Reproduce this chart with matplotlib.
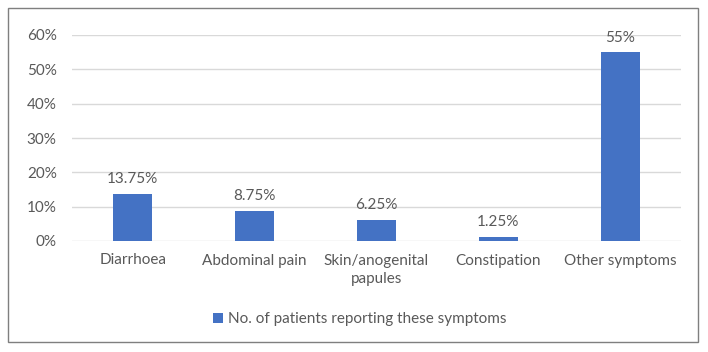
import matplotlib.pyplot as plt
from matplotlib.patches import Rectangle
from matplotlib.ticker import FuncFormatter

plt.rcParams['font.family'] = ['Lato', 'DejaVu Sans']

categories = ['Diarrhoea', 'Abdominal pain', 'Skin/anogenital\npapules', 'Constipation', 'Other symptoms']
values = [13.75, 8.75, 6.25, 1.25, 55]
labels = ['13.75%', '8.75%', '6.25%', '1.25%', '55%']
series_name = 'No. of patients reporting these symptoms'

grey = '#595959'
blue = '#4472C4'

fig = plt.figure(figsize=(7.08, 3.52), dpi=100)
# outer frame
fig.patches.append(Rectangle((8 / 708, 10 / 352), 690 / 708, 334 / 352, transform=fig.transFigure,
                             fill=False, edgecolor='#7f7f7f', linewidth=1.0))

ax = fig.add_axes([72 / 708, 1 - 241 / 352, 609 / 708, 206 / 352])
x = range(len(categories))
bars = ax.bar(x, values, width=0.32, color=blue, label=series_name, zorder=3)
for b, lab in zip(bars, labels):
    ax.text(b.get_x() + b.get_width() / 2, b.get_height() + 2.2, lab, ha='center', va='bottom',
            fontsize=11, color=grey)

ax.set_ylim(0, 60)
ax.set_xlim(-0.5, 4.5)
ax.set_yticks(range(0, 61, 10))
ax.yaxis.set_major_formatter(FuncFormatter(lambda v, p: f'{v:.0f}%'))
ax.set_xticks(list(x))
ax.set_xticklabels(categories, va='top', linespacing=1.45)
ax.tick_params(axis='both', length=0, labelsize=11, labelcolor=grey)
ax.tick_params(axis='x', pad=9)
ax.tick_params(axis='y', pad=11)
ax.grid(axis='y', color='#d9d9d9', linewidth=1, zorder=0)
for s in ax.spines.values():
    s.set_visible(False)

fig.legend(handles=[bars], labels=[series_name], loc='center', bbox_to_anchor=(360 / 708, 1 - 319 / 352),
           frameon=False, fontsize=11, labelcolor=grey, handlelength=0.65, handleheight=0.65,
           handletextpad=0.3)

fig.savefig('out.png', dpi=100)
